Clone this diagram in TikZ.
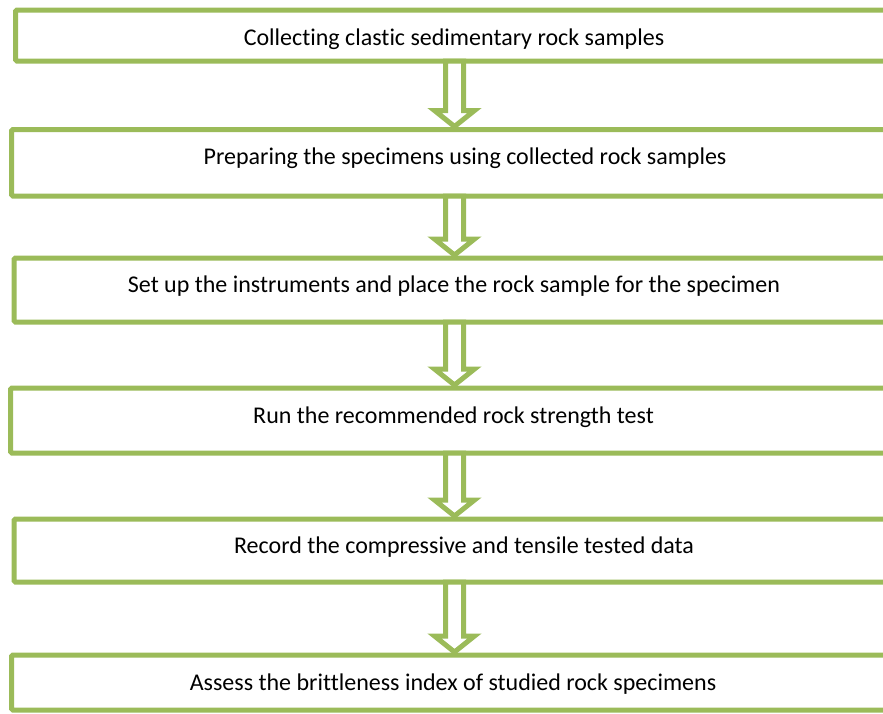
\documentclass[tikz,border=0pt]{standalone}
\usepackage{fontspec}
\setmainfont[Ligatures=NoCommon]{Carlito}
\usetikzlibrary{calc,positioning}
\definecolor{stepgreen}{HTML}{9BBB59}
\tikzset{
  stage/.style  = {draw=stepgreen, line width=5pt, rounded corners=1.5pt, fill=white,
                   anchor=north west, outer sep=0pt, inner sep=0pt, align=center,
                   text height=18pt, text depth=6pt,
                   font=\fontsize{24}{28}\selectfont},
  hollow/.style = {draw=stepgreen, line width=5pt, fill=white, line join=miter},
}
\begin{document}
\begin{tikzpicture}[x=1pt, y=1pt]
  \useasboundingbox (0,0) rectangle (883,-713);
  \clip (0,0) rectangle (883,-713);
  \node[stage, minimum width=877pt, minimum height=51pt, text height=26pt] (b1) at (15.5,-10) {Collecting clastic sedimentary rock samples};
  \node[stage, minimum width=907pt, minimum height=66.5pt, text depth=14pt] (b2) at (11.5,-129.5) {Preparing the specimens using collected rock samples};
  \node[stage, minimum width=880pt, minimum height=64pt, text depth=14pt] (b3) at (14,-258) {Set up the instruments and place the rock sample for the specimen};
  \node[stage, minimum width=886pt, minimum height=65pt, text depth=12pt] (b4) at (10.5,-388) {Run the recommended rock strength test};
  \node[stage, minimum width=900pt, minimum height=63pt, text depth=12pt] (b5) at (14,-519) {Record the compressive and tensile tested data};
  \node[stage, minimum width=883pt, minimum height=55pt, text height=22pt] (b6) at (11.5,-655) {Assess the brittleness index of studied rock specimens};
  \coordinate (axis) at (454.5,0);
  % hollow block arrows between the stages
  \foreach \from/\to in {b1/b2, b2/b3, b3/b4, b4/b5, b5/b6}
    \draw[hollow] ($(\from.south -| axis)+(-9,0)$) -- ($(\to.north -| axis)+(-9,19)$)
      -- ($(\to.north -| axis)+(-20,19)$) -- ($(\to.north -| axis)+(0,3)$)
      -- ($(\to.north -| axis)+(20,19)$) -- ($(\to.north -| axis)+(9,19)$)
      -- ($(\from.south -| axis)+(9,0)$) -- cycle;
\end{tikzpicture}
\end{document}
